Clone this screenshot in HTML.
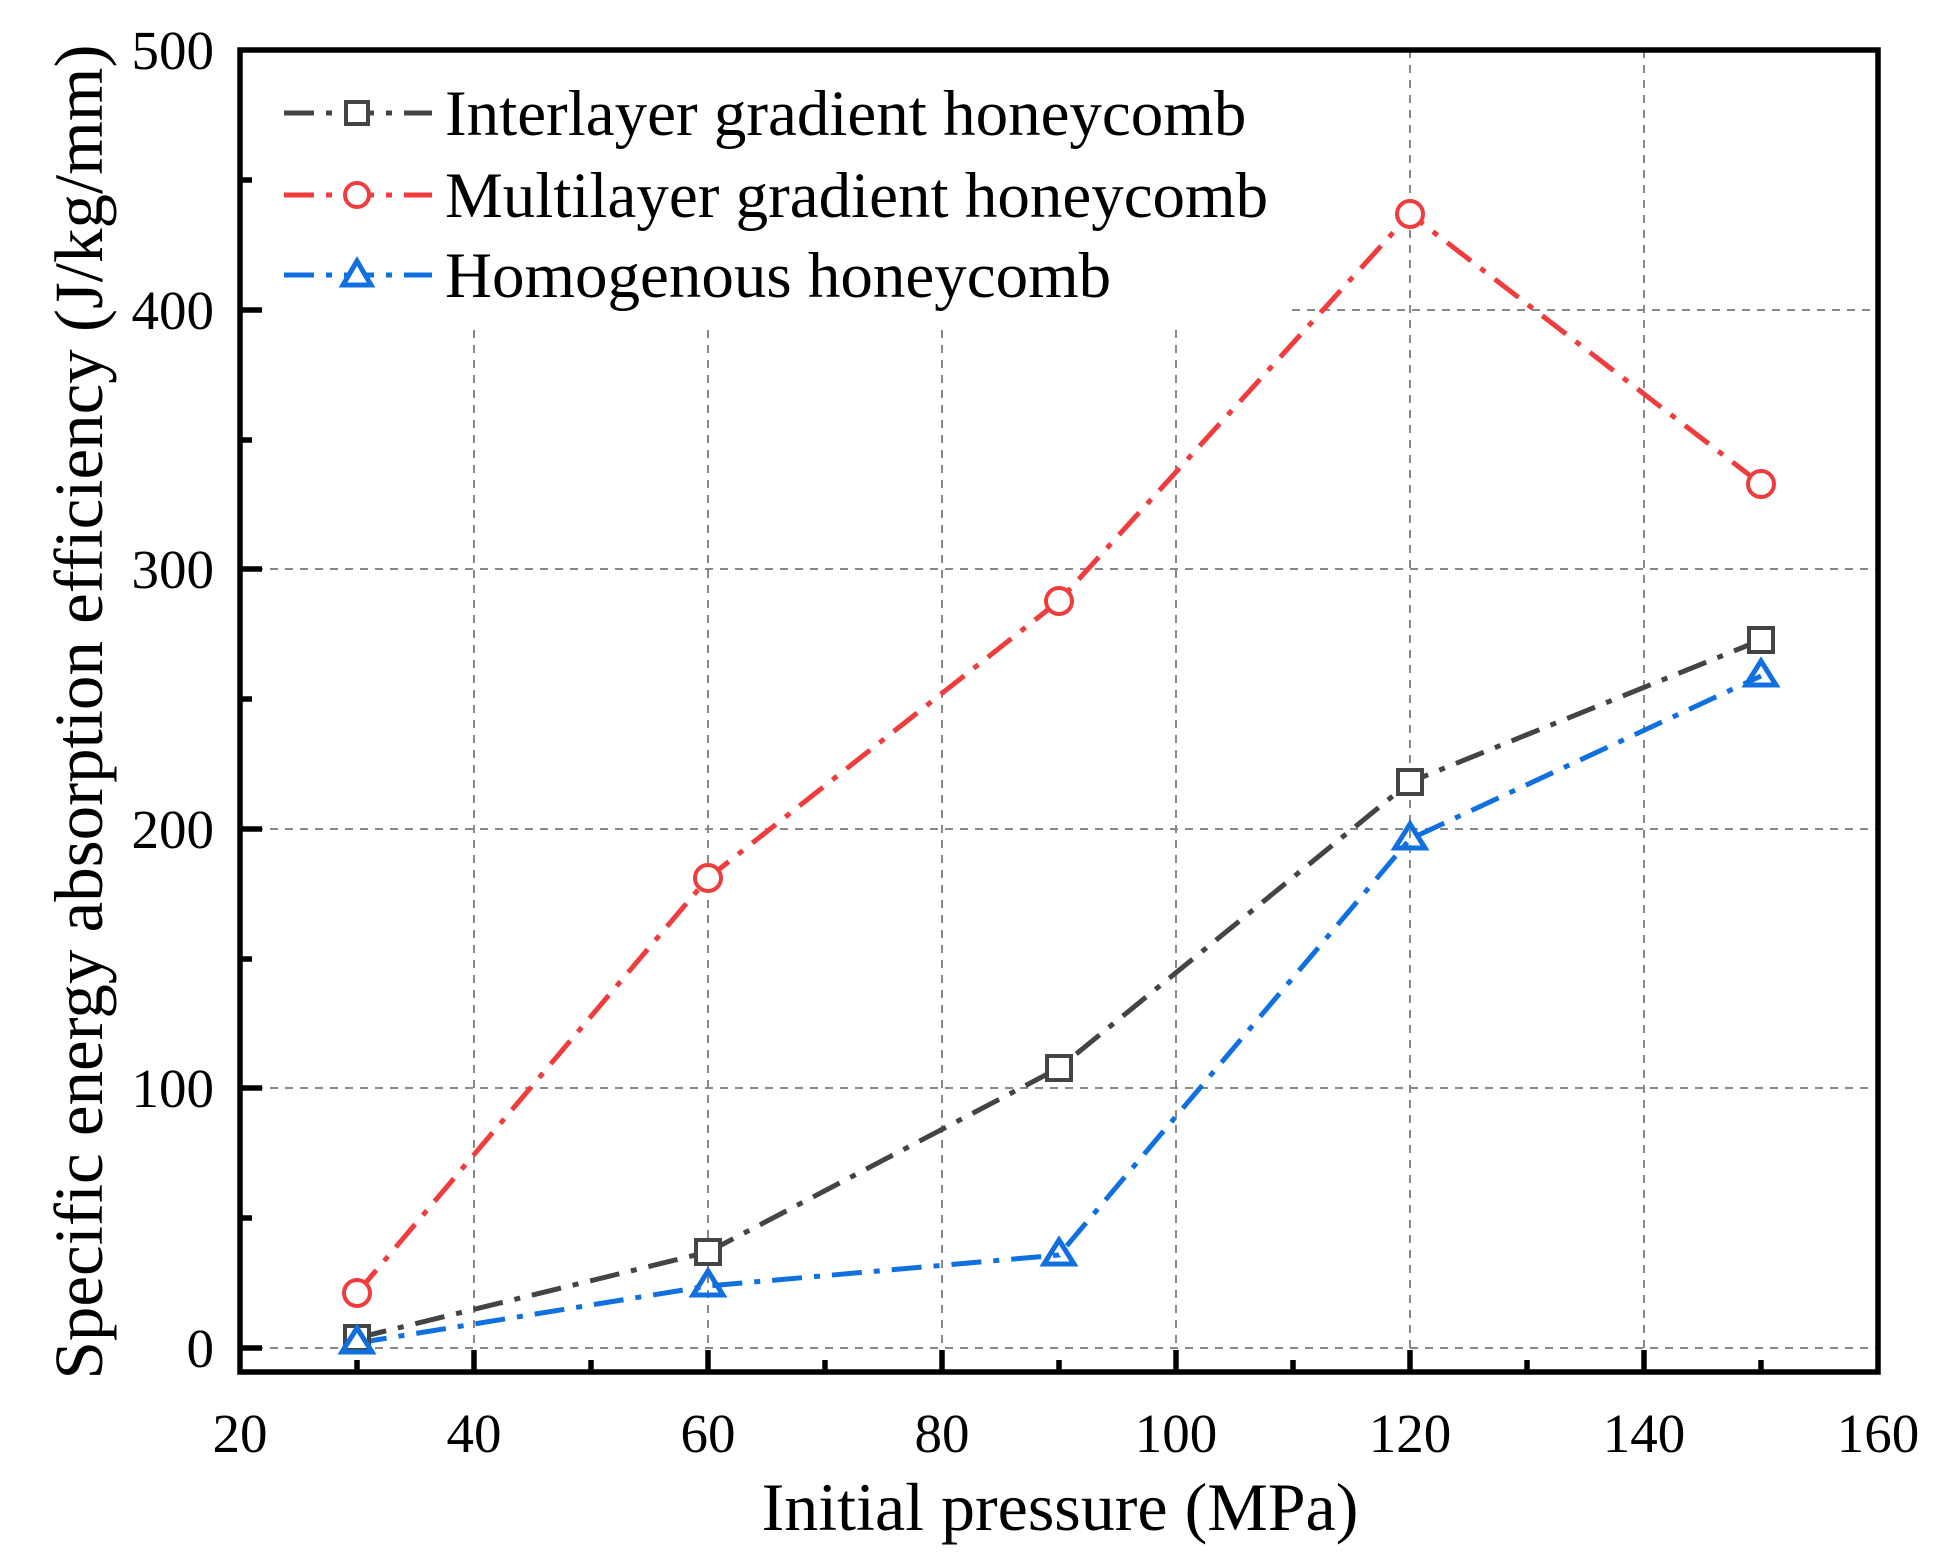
<!DOCTYPE html>
<html><head><meta charset="utf-8"><style>body{margin:0;background:#fff}</style></head><body>
<svg width="1938" height="1563" xmlns="http://www.w3.org/2000/svg" font-family="Liberation Serif, serif">
<rect width="1938" height="1563" fill="#fff"/>
<g stroke="#888" stroke-width="2" stroke-dasharray="8,7">
<line x1="240" y1="1348" x2="1878" y2="1348"/>
<line x1="240" y1="1088" x2="1878" y2="1088"/>
<line x1="240" y1="829" x2="1878" y2="829"/>
<line x1="240" y1="569" x2="1878" y2="569"/>
<line x1="1292" y1="310" x2="1878" y2="310"/>
<line x1="474" y1="330" x2="474" y2="1372"/>
<line x1="708" y1="330" x2="708" y2="1372"/>
<line x1="942" y1="330" x2="942" y2="1372"/>
<line x1="1176" y1="330" x2="1176" y2="1372"/>
<line x1="1410" y1="50" x2="1410" y2="1372"/>
<line x1="1644" y1="50" x2="1644" y2="1372"/>
</g>
<g stroke="#000" stroke-width="5.5">
<rect x="240" y="50" width="1638" height="1322" fill="none"/>
<path d="M240 1348h22M240 1088h22M240 829h22M240 569h22M240 310h22M240 1218h12M240 959h12M240 699h12M240 440h12M240 180h12"/>
<path d="M474 1372v-22M708 1372v-22M942 1372v-22M1176 1372v-22M1410 1372v-22M1644 1372v-22M357 1372v-12M591 1372v-12M825 1372v-12M1059 1372v-12M1293 1372v-12M1527 1372v-12M1761 1372v-12"/>
</g>
<g font-size="55" text-anchor="end">
<text x="214" y="1367">0</text><text x="214" y="1107">100</text><text x="214" y="848">200</text><text x="214" y="588">300</text><text x="214" y="329">400</text><text x="214" y="69">500</text>
</g>
<g font-size="55" text-anchor="middle">
<text x="240" y="1452">20</text><text x="474" y="1452">40</text><text x="708" y="1452">60</text><text x="942" y="1452">80</text><text x="1176" y="1452">100</text><text x="1410" y="1452">120</text><text x="1644" y="1452">140</text><text x="1878" y="1452">160</text>
</g>
<text x="1060" y="1530" font-size="68" text-anchor="middle">Initial pressure (MPa)</text>
<text transform="translate(102,712) rotate(-90)" font-size="69" text-anchor="middle">Specific energy absorption efficiency (J/kg/mm)</text>
<g fill="none" stroke-width="5" stroke-dasharray="30,12,6,12">
<polyline stroke="#444" points="357,1338 708,1252 1059,1068 1410,782 1761,640"/>
<polyline stroke="#f03c3c" points="357,1293 708,878 1059,601 1410,214 1761,484"/>
<polyline stroke="#1070e0" points="357,1343 708,1286 1059,1255 1410,839 1761,676"/>
</g>
<g fill="#fff" stroke="#444" stroke-width="4">
<rect x="345" y="1326" width="24" height="24"/><rect x="696" y="1240" width="24" height="24"/><rect x="1047" y="1056" width="24" height="24"/><rect x="1398" y="770" width="24" height="24"/><rect x="1749" y="628" width="24" height="24"/>
</g>
<g fill="#fff" stroke="#f03c3c" stroke-width="4">
<circle cx="357" cy="1293" r="13"/><circle cx="708" cy="878" r="13"/><circle cx="1059" cy="601" r="13"/><circle cx="1410" cy="214" r="13"/><circle cx="1761" cy="484" r="13"/>
</g>
<g fill="none" stroke="#1070e0" stroke-width="5">
<path d="M357 1328l15 24h-30z"/><path d="M708 1271l15 24h-30z"/><path d="M1059 1240l15 24h-30z"/><path d="M1410 824l15 24h-30z"/><path d="M1761 661l15 24h-30z"/>
</g>
<g stroke-width="5" stroke-dasharray="30,12,6,12" fill="none">
<line x1="284" y1="113" x2="432" y2="113" stroke="#444"/>
<line x1="284" y1="195" x2="432" y2="195" stroke="#f03c3c"/>
<line x1="284" y1="275" x2="432" y2="275" stroke="#1070e0"/>
</g>
<rect x="346" y="102" width="22" height="22" fill="#fff" stroke="#444" stroke-width="4"/>
<circle cx="357" cy="195" r="12" fill="#fff" stroke="#f03c3c" stroke-width="4"/>
<path d="M357 261l14 24h-28z" fill="#fff" stroke="#1070e0" stroke-width="5"/>
<g font-size="65">
<text x="445" y="135">Interlayer gradient honeycomb</text>
<text x="445" y="217">Multilayer gradient honeycomb</text>
<text x="445" y="297">Homogenous honeycomb</text>
</g>
</svg>
</body></html>
